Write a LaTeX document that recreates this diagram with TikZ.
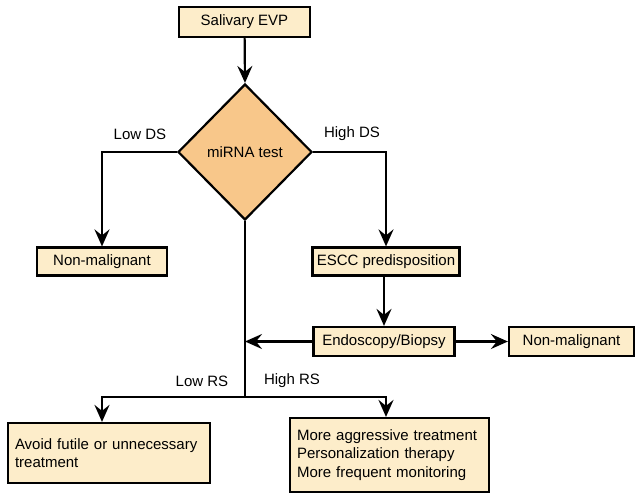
\documentclass[tikz,border=0pt]{standalone}
\usepackage{fontspec}
\setmainfont{Liberation Sans}
\usetikzlibrary{shapes.geometric,arrows.meta}
\definecolor{boxfill}{RGB}{253,237,202}
\definecolor{diafill}{RGB}{248,199,138}
\begin{document}
\begin{tikzpicture}[x=1pt,y=-1pt,
  font=\fontsize{15}{18.5}\selectfont,
  box/.style={draw=black,line width=2.2pt,fill=boxfill,inner sep=0pt,align=center},
  dia/.style={draw=black,line width=2.2pt,fill=diafill,diamond,inner sep=0pt,minimum width=134pt,minimum height=136pt},
  conn/.style={line width=2.2pt},
  arr/.style={line width=2.2pt,-{Stealth[length=17pt,width=15pt,inset=6pt]}},
  lbl/.style={inner sep=0pt}
]
\useasboundingbox (0,0) rectangle (636,493);
\node[box,minimum width=131pt,minimum height=30pt] (evp) at (244.5,22) {Salivary EVP};
\node[dia] (mir) at (245,152) {miRNA test};
\node[box,minimum width=130pt,minimum height=28pt] (nm1) at (102,261.5) {Non-malignant};
\node[box,minimum width=147pt,minimum height=28pt] (escc) at (386,261.5) {ESCC predisposition};
\node[box,minimum width=141pt,minimum height=29pt] (endo) at (384,341.5) {Endoscopy/Biopsy};
\node[box,minimum width=125pt,minimum height=29pt] (nm2) at (571.5,341.5) {Non-malignant};
\node[box,minimum width=202pt,minimum height=60pt,text width=188pt,align=left] (lb) at (109,453) {Avoid futile or unnecessary\\treatment};
\node[box,minimum width=199pt,minimum height=74pt,text width=185pt,align=left] (rb) at (389.5,455) {More aggressive treatment\\Personalization therapy\\More frequent monitoring};
\node[lbl] (lowds) at (140,134) {Low DS};
\node[lbl] (highds) at (352,134) {High DS};
\node[lbl] (lowrs) at (202,381) {Low RS};
\node[lbl] (highrs) at (292,381) {High RS};
\coordinate (j) at (245,397);
\draw[arr] (evp) -- (mir.north);
\draw[arr] (mir.west) -| (nm1.north);
\draw[arr] (mir.east) -| (escc.north);
\draw[arr] (escc.south -| endo.north) -- (endo.north);
\draw[arr] (endo.east) -- (nm2.west);
\draw[arr] (endo.west) -- (endo.west -| j);
\draw[conn] (mir.south) -- (j);
\draw[arr] (j) -| (nm1.south |- lb.north);
\draw[arr] (j) -| (escc.south |- rb.north);
\end{tikzpicture}
\end{document}
